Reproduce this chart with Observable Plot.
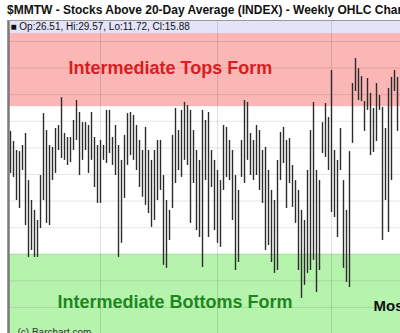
<!DOCTYPE html>
<html><head><meta charset="utf-8">
<script src="https://cdn.jsdelivr.net/npm/d3@7"></script>
<script src="https://cdn.jsdelivr.net/npm/@observablehq/plot@0.6"></script>
<style>
html,body{margin:0;padding:0;background:#fff;overflow:hidden;width:400px;height:333px;}
#title{font:bold 12px "Liberation Sans",Arial,sans-serif;height:20px;line-height:20px;padding-left:7px;white-space:nowrap;overflow:hidden;color:#111;}
#chart svg{display:block;}
</style></head><body>
<div id="title"></div>
<div id="chart"></div>
<script>
const titleText = "$MMTW - Stocks Above 20-Day Average (INDEX) - Weekly OHLC Chart";
const legendText = "\u25A0 Op:26.51, Hi:29.57, Lo:11.72, Cl:15.88";
const topsLabel = "Intermediate Tops Form";
const bottomsLabel = "Intermediate Bottoms Form";
const sideLabel = "Mos";
const creditLabel = "(c) Barchart.com";

// weekly highs / lows (% of stocks above 20-day average), oldest first
const highs = [66.2,62.4,59.0,58.6,60.9,65.4,47.7,40.2,36.5,32.7,
49.6,72.9,66.5,60.9,60.2,67.3,68.4,78.9,65.4,63.9,
63.9,70.3,77.8,73.3,69.5,69.5,68.4,73.3,63.9,60.9,
62.8,60.9,74.1,74.1,63.9,68.4,60.9,55.3,64.7,72.9,
73.3,72.2,68.4,62.8,59.0,67.7,59.0,55.3,59.0,62.8,
62.8,49.6,40.2,36.5,64.7,74.8,66.5,74.1,77.1,75.9,
74.1,66.5,59.0,55.3,74.1,70.3,73.3,59.0,55.3,51.5,
47.7,68.4,67.7,62.8,59.0,49.6,44.0,62.8,77.8,77.1,
65.4,62.8,68.4,66.5,59.0,60.2,51.5,44.0,40.2,55.3,
65.8,67.7,62.8,63.5,53.4,47.7,44.0,36.5,32.7,51.5,
66.5,77.1,51.5,47.7,69.5,76.7,71.4,89.1,59.0,55.3,
67.3,47.7,36.5,58.6,84.2,93.6,89.8,86.8,77.4,86.1,
80.5,74.8,84.2,79.7,75.2,67.3,82.3,86.5,89.1,86.5];
const lows = [50.4,48.9,40.2,37.2,51.5,30.8,18.8,21.4,18.8,18.8,
29.7,40.2,31.6,30.8,47.7,50.4,59.0,56.0,55.3,53.4,
54.5,59.0,62.8,49.6,55.3,59.0,50.4,55.3,45.1,39.1,
39.1,55.3,54.1,57.9,53.4,49.6,18.8,24.1,41.0,53.4,
57.1,55.3,51.5,45.1,41.4,38.4,35.3,30.1,32.7,40.2,
44.0,15.8,14.7,25.2,37.2,46.6,51.5,48.9,55.3,53.4,
31.6,46.6,28.9,26.3,15.0,47.7,26.3,45.1,28.9,24.1,
22.6,44.0,48.9,47.7,32.7,13.9,16.9,48.9,46.6,55.3,
49.6,47.7,49.6,44.0,39.1,21.4,23.3,16.9,12.8,13.9,
47.7,54.1,37.2,46.6,37.6,31.6,13.9,3.4,8.3,12.8,
13.9,17.7,5.6,13.9,57.9,56.4,51.5,35.7,33.8,26.3,
51.5,14.7,9.4,7.5,61.7,81.2,77.8,77.4,66.2,74.1,
57.1,58.3,62.4,74.1,25.2,40.2,28.2,47.7,81.2,66.2];

const yTicks = [0,10,20,30,40,50,60,70,80,90,100];
const timeTicks = [30, 69, 107];          // week index of vertical grid lines
const topsZone = [75.5, 103];
const bottomsZone = [-9.8, 20];
const headerZone = [103, 107.9];

const weeks = d3.range(highs.length);
const xDomain = [-0.67, 130];
const yDomain = [-9.8, 107.9];
const band = (z) => [{from: z[0], to: z[1]}];
const X1 = () => xDomain[0], X2 = () => xDomain[1];

document.getElementById("title").textContent = titleText;

const chart = Plot.plot({
  width: 400, height: 313,
  marginLeft: 8, marginRight: 0, marginTop: 0, marginBottom: 0,
  x: {domain: xDomain, axis: null},
  y: {domain: yDomain, axis: null},
  style: {fontFamily: "'Liberation Sans', Arial, sans-serif", background: "#fff", overflow: "hidden"},
  marks: [
    Plot.rect(band(headerZone), {x1: X1, x2: X2, y1: "from", y2: "to", fill: "#e3e3fa"}),
    Plot.rect(band(topsZone), {x1: X1, x2: X2, y1: "from", y2: "to", fill: "#fbb6b6"}),
    Plot.rect(band(bottomsZone), {x1: X1, x2: X2, y1: "from", y2: "to", fill: "#b6f4ae"}),
    Plot.ruleY(yTicks, {stroke: "#000", strokeOpacity: 0.1}),
    Plot.ruleX(timeTicks, {stroke: "#000", strokeOpacity: 0.12}),
    Plot.ruleX(weeks, {x: d => d, y1: d => lows[d], y2: d => highs[d], stroke: "#2b2b2b", strokeWidth: 1.4}),
    Plot.ruleX([xDomain[0]], {stroke: "#7a7a7a", strokeWidth: 2.5}),
    Plot.ruleY([yDomain[1]], {stroke: "#999", strokeWidth: 1}),
    Plot.text([legendText], {text: d => d, frameAnchor: "top-left", textAnchor: "start", lineAnchor: "bottom", dx: 2, dy: 9.5, fontSize: 10, fill: "#111"}),
    Plot.text([topsLabel], {text: d => d, frameAnchor: "top-left", textAnchor: "start", lineAnchor: "bottom", dx: 60, dy: 53, fontSize: 18, fontWeight: "bold", fill: "#d81e1e"}),
    Plot.text([bottomsLabel], {text: d => d, frameAnchor: "top-left", textAnchor: "start", lineAnchor: "bottom", dx: 49, dy: 287, fontSize: 18, fontWeight: "bold", fill: "#1f861f"}),
    Plot.text([sideLabel], {text: d => d, frameAnchor: "top-left", textAnchor: "start", lineAnchor: "bottom", dx: 365, dy: 290, fontSize: 15, fontWeight: "bold", fill: "#111"}),
    Plot.text([creditLabel], {text: d => d, frameAnchor: "top-left", textAnchor: "start", lineAnchor: "bottom", dx: 9, dy: 315, fontSize: 10, fill: "#333"})
  ]
});
document.getElementById("chart").appendChild(chart);
</script>
</body></html>
